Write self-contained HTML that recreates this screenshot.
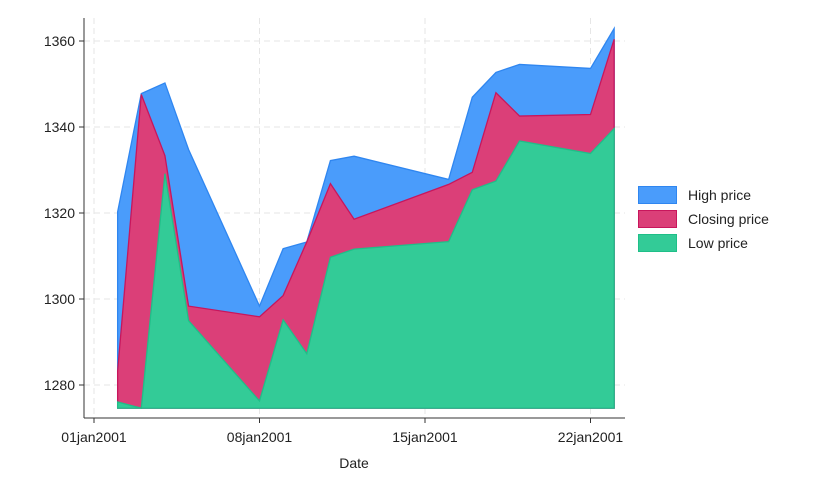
<!DOCTYPE html>
<html><head><meta charset="utf-8"><style>
body{margin:0;background:#fff;font-family:"Liberation Sans",Arial,sans-serif}
</style></head><body>
<svg id="chart" width="820" height="492" xmlns="http://www.w3.org/2000/svg" font-family="Liberation Sans, Arial, sans-serif">
<rect width="820" height="492" fill="#fff"/>
<g id="grid"></g><g id="areas"></g><g id="axes"></g><g id="legend"></g>
</svg>
<script>
const days=[2,3,4,5,8,9,10,11,12,16,17,18,19,22,23];
const high=[1320.28,1347.76,1350.24,1334.77,1298.35,1311.72,1313.27,1332.19,1333.21,1327.81,1346.92,1352.70,1354.55,1353.62,1362.90];
const close=[1283.27,1347.56,1333.34,1298.35,1295.86,1300.80,1313.27,1326.82,1318.55,1326.65,1329.47,1347.97,1342.54,1342.90,1360.40];
const low=[1276.05,1274.62,1329.14,1294.95,1276.29,1295.14,1287.28,1309.72,1311.59,1313.33,1325.41,1327.41,1336.74,1333.84,1339.63];
const yTicks=[1280,1300,1320,1340,1360];
const xTicks=[1,8,15,22];
const xTickLabels=["01jan2001","08jan2001","15jan2001","22jan2001"];
const base=1274.62;
const NS="http://www.w3.org/2000/svg";
const X=d=>94+(d-1)*23.643;
const Y=v=>41+(1360-v)*4.3;
function mk(tag,attrs,parent,text){const e=document.createElementNS(NS,tag);for(const k in attrs)e.setAttribute(k,attrs[k]);if(text!==undefined)e.textContent=text;parent.appendChild(e);return e;}
const grid=document.getElementById('grid'),areas=document.getElementById('areas'),axes=document.getElementById('axes'),legend=document.getElementById('legend');
yTicks.forEach(v=>{const l=mk('line',{x1:84,x2:625,y1:Y(v),y2:Y(v),stroke:'#e6e6e6','stroke-dasharray':'6,4'},grid);

});
xTicks.forEach(d=>{const l=mk('line',{x1:X(d),x2:X(d),y1:18,y2:418,stroke:'#e6e6e6','stroke-dasharray':'6,4'},grid);

});
function area(vals,fill,stroke,name){let d='M'+X(days[0])+','+Y(base);vals.forEach((v,i)=>d+=' L'+X(days[i])+','+Y(v));d+=' L'+X(days[days.length-1])+','+Y(base)+' Z';
const p=mk('path',{d:d,fill:fill,stroke:stroke,'stroke-width':1.3},areas);

}
area(high,'#4a9cfb','#2f86f0','high-price-area');
area(close,'#db3f78','#c8165c','closing-price-area');
area(low,'#33cb97','#1fbf88','low-price-area');
const ya=mk('line',{x1:84,x2:84,y1:18,y2:418,stroke:'#333','stroke-width':1},axes);


const xa=mk('line',{x1:84,x2:625,y1:418,y2:418,stroke:'#333','stroke-width':1},axes);


yTicks.forEach(v=>{mk('line',{x1:79,x2:84,y1:Y(v),y2:Y(v),stroke:'#333'},axes);
const t=mk('text',{x:75,y:Y(v)+5,'text-anchor':'end','font-size':14,fill:'#222'},axes,String(v));

});
xTicks.forEach((d,i)=>{mk('line',{x1:X(d),x2:X(d),y1:418,y2:423,stroke:'#333'},axes);
const t=mk('text',{x:X(d),y:442,'text-anchor':'middle','font-size':14,fill:'#222'},axes,xTickLabels[i]);

});
const xt=mk('text',{x:354,y:468,'text-anchor':'middle','font-size':14,fill:'#222'},axes,'Date');


[['High price','#4a9cfb','#2f86f0'],['Closing price','#db3f78','#c8165c'],['Low price','#33cb97','#1fbf88']].forEach((e,i)=>{
const g=mk('g',{},legend);


mk('rect',{x:638.5,y:186.5+i*24,width:38,height:17,fill:e[1],stroke:e[2]},g);
mk('text',{x:688,y:200+i*24,'font-size':14,fill:'#222'},g,e[0]);});
</script>
</body></html>
